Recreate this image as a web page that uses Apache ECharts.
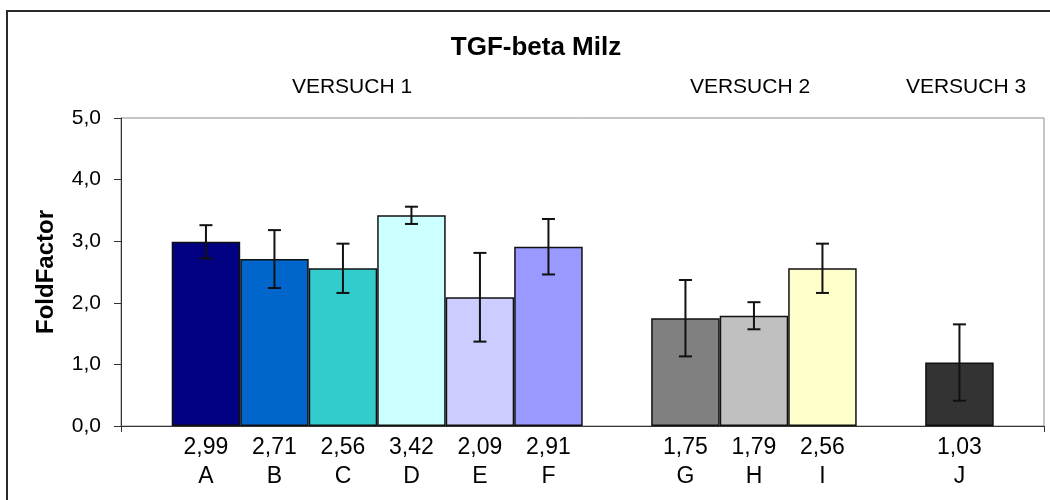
<!DOCTYPE html>
<html>
<head>
<meta charset="utf-8">
<script src="https://cdn.jsdelivr.net/npm/echarts@6/dist/echarts.min.js"></script>
<style>
  html, body { margin: 0; padding: 0; background: #fff; }
  #chart { width: 1050px; height: 500px; }
</style>
</head>
<body>
<div id="chart"></div>
<script>
// Samples (blank slots separate the three experiments)
const categories = ['A', 'B', 'C', 'D', 'E', 'F', '', 'G', 'H', 'I', '', 'J'];
// Mean fold factor per sample
const foldValues = [2.99, 2.71, 2.56, 3.42, 2.09, 2.91, null, 1.75, 1.79, 2.56, null, 1.03];
// Standard deviation per sample (error bars)
const foldErrors = [0.27, 0.47, 0.40, 0.14, 0.72, 0.45, null, 0.62, 0.22, 0.40, null, 0.62];
// Bar fill colours
const barColors = ['#000080', '#0066CC', '#33CCCC', '#CCFFFF', '#CCCCFF', '#9999FF', null,
                   '#808080', '#C0C0C0', '#FFFFCC', null, '#333333'];
// Y axis ticks
const yTicks = { min: 0, max: 5, interval: 1 };
// Experiment headings
const groupLabels = ['VERSUCH 1', 'VERSUCH 2', 'VERSUCH 3'];
const chartTitle = 'TGF-beta Milz';
const yAxisTitle = 'FoldFactor';

const FONT = "'Liberation Sans', Arial, sans-serif";
const deFmt = (v, d) => v.toFixed(d).replace('.', ',');

const barData = foldValues.map((v, i) => v == null ? null : {
  value: v,
  itemStyle: { color: barColors[i] }
});
const errData = [];
foldValues.forEach((v, i) => {
  if (v != null && foldErrors[i] != null) errData.push([i, v - foldErrors[i], v + foldErrors[i]]);
});

const chart = echarts.init(document.getElementById('chart'), null, { renderer: 'canvas' });

const headingStyle = (text) => ({
  text, fontFamily: FONT, fontSize: 21, fill: '#000', align: 'center', verticalAlign: 'middle'
});

const option = {
  backgroundColor: '#ffffff',
  animation: false,
  textStyle: { fontFamily: FONT },
  graphic: [
    {
      type: 'rect', z: -10, silent: true,
      shape: { x: 7, y: 11, width: 1200, height: 700 },
      style: { fill: 'none', stroke: '#2b2b2b', lineWidth: 2 }
    },
    {
      type: 'text', x: 536, y: 48, silent: true,
      style: { text: chartTitle, fontFamily: FONT, fontSize: 26, fontWeight: 'bold',
               fill: '#000', align: 'center', verticalAlign: 'middle' }
    },
    { type: 'text', x: 352, y: 87, silent: true, style: headingStyle(groupLabels[0]) },
    { type: 'text', x: 750, y: 87, silent: true, style: headingStyle(groupLabels[1]) },
    { type: 'text', x: 966, y: 87, silent: true, style: headingStyle(groupLabels[2]) }
  ],
  grid: [
    // plot frame with axes
    { left: 121, right: 6, top: 118, bottom: 74, show: true,
      borderColor: '#8c8c8c', borderWidth: 1, backgroundColor: 'transparent' },
    // bar band inside the frame
    { left: 171.7, right: 56.3, top: 118, bottom: 74 }
  ],
  xAxis: [
    {
      gridIndex: 0, type: 'value', min: 0, max: 1, interval: 1,
      axisLine: { show: true, lineStyle: { color: '#333', width: 1 } },
      axisTick: { show: true, inside: false, length: 6, lineStyle: { color: '#333' } },
      axisLabel: { show: false },
      splitLine: { show: false }
    },
    {
      gridIndex: 1, type: 'category', data: categories, boundaryGap: true,
      axisLine: { show: false },
      axisTick: { show: false },
      splitLine: { show: false },
      axisLabel: {
        interval: 0, margin: 7, color: '#000', fontFamily: FONT,
        formatter: (val, idx) => foldValues[idx] == null ? '' :
          '{v|' + deFmt(foldValues[idx], 2) + '}\n{c|' + val + '}',
        rich: {
          v: { fontSize: 23, lineHeight: 29, fontFamily: FONT, color: '#000' },
          c: { fontSize: 23, lineHeight: 29, fontFamily: FONT, color: '#000' }
        }
      }
    }
  ],
  yAxis: [
    {
      gridIndex: 0, type: 'value', min: yTicks.min, max: yTicks.max, interval: yTicks.interval,
      name: yAxisTitle, nameLocation: 'middle', nameRotate: 90, nameGap: 63,
      nameTextStyle: { fontFamily: FONT, fontSize: 24, fontWeight: 'bold', color: '#000' },
      axisLine: { show: true, lineStyle: { color: '#333', width: 1 } },
      axisTick: { show: true, inside: false, length: 7, lineStyle: { color: '#333' } },
      axisLabel: { color: '#000', fontSize: 21, fontFamily: FONT, margin: 20,
                   formatter: v => deFmt(v, 1) },
      splitLine: { show: false }
    },
    {
      gridIndex: 1, type: 'value', min: yTicks.min, max: yTicks.max, interval: yTicks.interval,
      show: false, splitLine: { show: false }
    }
  ],
  series: [
    {
      type: 'bar', xAxisIndex: 1, yAxisIndex: 1,
      data: barData, barWidth: '100%', barGap: '0%',
      itemStyle: { borderColor: '#111', borderWidth: 1.5 },
      z: 2
    },
    {
      type: 'custom', xAxisIndex: 1, yAxisIndex: 1, z: 5,
      data: errData,
      renderItem: (params, api) => {
        const x = api.value(0);
        const lo = api.coord([x, api.value(1)]);
        const hi = api.coord([x, api.value(2)]);
        const hw = 6.5;
        const st = { stroke: '#111', lineWidth: 2 };
        return {
          type: 'group',
          children: [
            { type: 'line', shape: { x1: hi[0], y1: hi[1], x2: lo[0], y2: lo[1] }, style: st },
            { type: 'line', shape: { x1: hi[0] - hw, y1: hi[1], x2: hi[0] + hw, y2: hi[1] }, style: st },
            { type: 'line', shape: { x1: lo[0] - hw, y1: lo[1], x2: lo[0] + hw, y2: lo[1] }, style: st }
          ]
        };
      }
    }
  ]
};

chart.setOption(option);
</script>
</body>
</html>
